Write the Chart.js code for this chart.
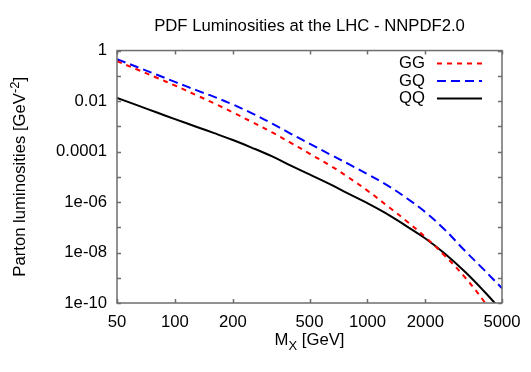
<!DOCTYPE html>
<html>
<head>
<meta charset="utf-8">
<script src="https://cdn.jsdelivr.net/npm/chart.js@4.4.1/dist/chart.umd.min.js"></script>
<style>
  html, body { margin: 0; padding: 0; background: #fff; }
  #wrap { width: 531px; height: 372px; }
</style>
</head>
<body>
<div id="wrap"><canvas id="lumi" width="531" height="372"></canvas></div>
<script>
// PDF luminosities at the LHC - NNPDF2.0
const massGeV = [50, 65, 80, 100, 130, 160, 200, 250, 320, 400, 500, 650, 800, 1000, 1300, 1600, 2000, 2500, 3200, 4000, 5000];
const lumiGG = [0.3772, 0.1661, 0.0854, 0.0412, 0.01672, 0.00807, 0.00355, 0.00151, 5.69e-4, 2.21e-4, 8.24e-5, 2.59e-5, 9.26e-6, 2.83e-6, 6.07e-7, 1.73e-7, 4.05e-8, 8.0e-9, 1.07e-9, 1.26e-10, 9.8e-12];
const lumiGQ = [0.4525, 0.2087, 0.1123, 0.0572, 0.02636, 0.01458, 0.0073, 0.003332, 0.00128, 5.05e-4, 2.05e-4, 7.19e-5, 3.17e-5, 1.273e-5, 4.08e-6, 1.416e-6, 3.96e-7, 8.55e-8, 1.196e-8, 2.195e-9, 3.82e-10];
const lumiQQ = [0.01331, 0.006423, 0.003584, 0.001929, 9.39e-4, 5.34e-4, 2.846e-4, 1.437e-4, 6.39e-5, 2.76e-5, 1.239e-5, 4.76e-6, 2.096e-6, 8.98e-7, 2.98e-7, 1.084e-7, 3.57e-8, 9.52e-9, 1.764e-9, 3.12e-10, 4.78e-11];

const xTicks = [50, 100, 200, 500, 1000, 2000, 5000];
const yTicks = [1, 1e-1, 1e-2, 1e-3, 1e-4, 1e-5, 1e-6, 1e-7, 1e-8, 1e-9, 1e-10];
const yTickLabels = ['1', '', '0.01', '', '0.0001', '', '1e-06', '', '1e-08', '', '1e-10'];

const FONT = "'Liberation Sans', Arial, sans-serif";
const FONT_SIZE = 16.7;
Chart.defaults.font.family = FONT;
Chart.defaults.font.size = FONT_SIZE;
Chart.defaults.color = '#000';

const pts = (ys) => massGeV.map((m, i) => ({ x: m, y: ys[i] }));

function yLabelFor(v) {
  const i = yTicks.findIndex(t => Math.abs(Math.log10(t) - Math.log10(v)) < 1e-6);
  return i >= 0 ? yTickLabels[i] : '';
}

// gnuplot-like frame, inward ticks, legend and axis titles
const gnuplotLook = {
  id: 'gnuplotLook',
  afterDatasetsDraw(chart) {
    const { ctx, chartArea: a, scales } = chart;
    ctx.save();
    ctx.strokeStyle = '#6e6e6e';
    ctx.lineWidth = 1.5;
    ctx.strokeRect(a.left, a.top, a.right - a.left, a.bottom - a.top);
    ctx.beginPath();
    xTicks.forEach(v => {
      const px = Math.round(scales.x.getPixelForValue(v)) + 0.5;
      ctx.moveTo(px, a.bottom); ctx.lineTo(px, a.bottom - 4);
      ctx.moveTo(px, a.top); ctx.lineTo(px, a.top + 4);
    });
    yTicks.forEach(v => {
      const py = Math.round(scales.y.getPixelForValue(v)) + 0.5;
      ctx.moveTo(a.left, py); ctx.lineTo(a.left + 4, py);
      ctx.moveTo(a.right, py); ctx.lineTo(a.right - 4, py);
    });
    ctx.stroke();

    // legend
    const rowsY = [63.5, 81, 98.5];
    ctx.font = FONT_SIZE + 'px ' + FONT;
    ctx.fillStyle = '#000';
    ctx.textAlign = 'right';
    ctx.textBaseline = 'middle';
    chart.data.datasets.forEach((ds, i) => {
      const y = rowsY[i];
      ctx.fillText(ds.label, 425, y);
      ctx.save();
      ctx.strokeStyle = ds.borderColor;
      ctx.lineWidth = ds.borderWidth;
      ctx.setLineDash(ds.borderDash || []);
      ctx.beginPath();
      ctx.moveTo(437, y); ctx.lineTo(482, y);
      ctx.stroke();
      ctx.restore();
    });

    // x axis title: M_X [GeV]
    const mid = (a.left + a.right) / 2;
    const base = 345;
    const big = FONT_SIZE + 'px ' + FONT, small = '13px ' + FONT;
    ctx.textAlign = 'left';
    ctx.textBaseline = 'alphabetic';
    ctx.font = big; const wM = ctx.measureText('M').width, wRest = ctx.measureText(' [GeV]').width;
    ctx.font = small; const wX = ctx.measureText('X').width;
    const x0 = mid - (wM + wX + wRest) / 2;
    ctx.font = big; ctx.fillText('M', x0, base);
    ctx.font = small; ctx.fillText('X', x0 + wM, base + 5);
    ctx.font = big; ctx.fillText(' [GeV]', x0 + wM + wX, base);

    // y axis title: Parton luminosities [GeV^-2]
    ctx.save();
    ctx.translate(25, (a.top + a.bottom) / 2);
    ctx.rotate(-Math.PI / 2);
    ctx.font = big; const w1 = ctx.measureText('Parton luminosities [GeV').width, w3 = ctx.measureText(']').width;
    ctx.font = small; const w2 = ctx.measureText('-2').width;
    const s = -(w1 + w2 + w3) / 2;
    ctx.font = big; ctx.fillText('Parton luminosities [GeV', s, 0);
    ctx.font = small; ctx.fillText('-2', s + w1, -6);
    ctx.font = big; ctx.fillText(']', s + w1 + w2, 0);
    ctx.restore();

    ctx.restore();
  }
};

new Chart(document.getElementById('lumi').getContext('2d'), {
  type: 'line',
  data: {
    datasets: [{
      label: 'GG',
      data: pts(lumiGG),
      borderColor: '#ff0000',
      borderWidth: 2,
      borderDash: [5, 5],
      pointRadius: 0,
      tension: 0.4,
      clip: 0
    }, {
      label: 'GQ',
      data: pts(lumiGQ),
      borderColor: '#0000ff',
      borderWidth: 2,
      borderDash: [9, 5],
      pointRadius: 0,
      tension: 0.4,
      clip: 0
    }, {
      label: 'QQ',
      data: pts(lumiQQ),
      borderColor: '#000000',
      borderWidth: 2,
      pointRadius: 0,
      tension: 0.4,
      clip: 0
    }]
  },
  options: {
    responsive: false,
    animation: false,
    events: [],
    layout: { padding: { top: 1, right: 29, left: 0, bottom: 0 } },
    plugins: {
      legend: { display: false },
      tooltip: { enabled: false },
      title: {
        display: true,
        fullSize: false,
        text: 'PDF Luminosities at the LHC - NNPDF2.0',
        font: { size: FONT_SIZE, weight: 'normal', lineHeight: 1.2 },
        color: '#000',
        padding: { top: 15.5, bottom: 14 }
      }
    },
    scales: {
      x: {
        type: 'logarithmic',
        min: 50,
        max: 5000,
        grid: { display: false, drawTicks: false },
        border: { display: false },
        afterBuildTicks: s => { s.ticks = xTicks.map(v => ({ value: v })); },
        afterFit: s => { s.height = 69; },
        ticks: { autoSkip: false, maxRotation: 0, padding: 9, callback: v => String(v) }
      },
      y: {
        type: 'logarithmic',
        min: 1e-10,
        max: 1,
        grid: { display: false, drawTicks: false },
        border: { display: false },
        afterBuildTicks: s => { s.ticks = yTicks.map(v => ({ value: v })); },
        afterFit: s => { s.width = 117; },
        ticks: { autoSkip: false, padding: 10, callback: v => yLabelFor(v) }
      }
    }
  },
  plugins: [gnuplotLook]
});
</script>
</body>
</html>
